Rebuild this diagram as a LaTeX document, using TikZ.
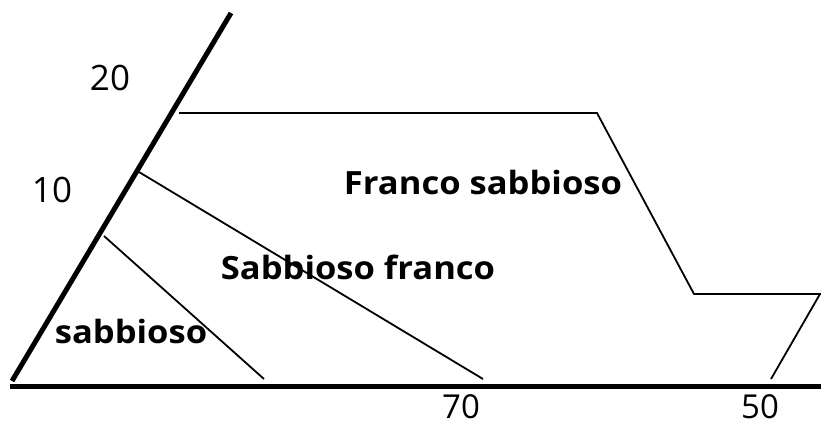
\documentclass[tikz,border=0pt]{standalone}
\usepackage{fontspec}
\setmainfont{Open Sans}
\begin{document}
\begin{tikzpicture}[x=1pt,y=-1pt,
  axis/.style={line width=5pt},
  border/.style={line width=1.8pt, line join=miter},
  num/.style={font=\fontsize{35}{40}\selectfont, inner sep=0pt},
  low/.style={num, font=\fontsize{33}{36}\selectfont, anchor=base},
  zone/.style={font=\bfseries\fontsize{32}{36}\selectfont\addfontfeature{FakeStretch=1.08}, inner sep=0pt}]
\useasboundingbox (0,0) rectangle (821,426);
% axes
\draw[axis] (12,381) -- (231,13);
\draw[axis] (10,386) -- (821,386);
% boundaries
\draw[border] (179,113) -- (597,113) -- (694,294) -- (821,294);
\draw[border] (820,294) -- (771,379);
\draw[border] (139,172) -- (483,379);
\draw[border] (104,236) -- (264,379);
% numbers
\node[num] (n20) at (110,78) {20};
\node[num] (n10) at (52,190) {10};
\node[low] (n70) at (461,418) {70};
\node[low] (n50) at (760,418) {50};
% zone labels
\node[zone] (fs) at (483,182) {Franco sabbioso};
\node[zone] (sf) at (358,267) {Sabbioso franco};
\node[zone] (s) at (131,331) {sabbioso};
\end{tikzpicture}
\end{document}
